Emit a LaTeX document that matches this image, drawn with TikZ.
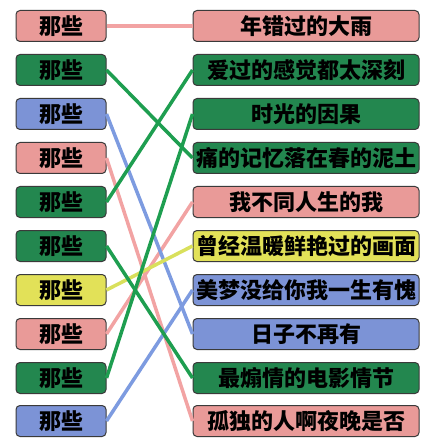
\documentclass[tikz,border=0pt]{standalone}
\usepackage{fontspec}
\usepackage{tikz}
\usetikzlibrary{positioning}
\newfontfamily\cjk{Noto Sans CJK SC}

\definecolor{pinkbox}{HTML}{E99A98}
\definecolor{greenbox}{HTML}{23874F}
\definecolor{bluebox}{HTML}{7C93D6}
\definecolor{yellowbox}{HTML}{E2E158}
\definecolor{pinkline}{HTML}{F2A3A3}
\definecolor{greenline}{HTML}{1E9E50}
\definecolor{blueline}{HTML}{7D9BE0}
\definecolor{yellowline}{HTML}{D9E05C}
\definecolor{rim}{HTML}{3A3A3A}

\begin{document}
\begin{tikzpicture}[
    x=1pt, y=-1pt,
    every node/.style={font=\cjk\bfseries\fontsize{22}{22}\selectfont, text=black},
    word/.style={draw=rim, line width=1pt, rounded corners=4pt, inner sep=0pt,
                 minimum height=31pt},
    lword/.style={word, minimum width=90pt},
    rword/.style={word, minimum width=226pt},
    link/.style={line width=3.5pt}
]
\useasboundingbox (0,0) rectangle (429,443);

% ---------------- Left ----------------
\node[lword,fill=pinkbox]   (l1)  at (61,26)  {那些};
\node[lword,fill=greenbox]  (l2)  at (61,70)  {那些};
\node[lword,fill=bluebox]   (l3)  at (61,114) {那些};
\node[lword,fill=pinkbox]   (l4)  at (61,158) {那些};
\node[lword,fill=greenbox]  (l5)  at (61,202) {那些};
\node[lword,fill=greenbox]  (l6)  at (61,246) {那些};
\node[lword,fill=yellowbox] (l7)  at (61,290) {那些};
\node[lword,fill=pinkbox]   (l8)  at (61,334) {那些};
\node[lword,fill=greenbox]  (l9)  at (61,378) {那些};
\node[lword,fill=bluebox]   (l10) at (61,421) {那些};

% ---------------- Right ----------------
\node[rword,fill=pinkbox]   (r1)  at (306,26)  {年错过的大雨};
\node[rword,fill=greenbox]  (r2)  at (306,70)  {爱过的感觉都太深刻};
\node[rword,fill=greenbox]  (r3)  at (306,114) {时光的因果};
\node[rword,fill=greenbox]  (r4)  at (306,158) {痛的记忆落在春的泥土};
\node[rword,fill=pinkbox]   (r5)  at (306,202) {我不同人生的我};
\node[rword,fill=yellowbox] (r6)  at (306,246) {曾经温暖鲜艳过的画面};
\node[rword,fill=bluebox]   (r7)  at (306,290) {美梦没给你我一生有愧};
\node[rword,fill=bluebox]   (r8)  at (306,334) {日子不再有};
\node[rword,fill=greenbox]  (r9)  at (306,378) {最煽情的电影情节};
\node[rword,fill=pinkbox]   (r10) at (306,421) {孤独的人啊夜晚是否};

% ---------------- Links ----------------
\draw[link] (l1.east) edge[pinkline] (r1.west)
            (l4.east) edge[pinkline] (r10.west)
            (l8.east) edge[pinkline] (r5.west)
            (l3.east) edge[blueline] (r8.west)
            (l10.east) edge[blueline] (r7.west)
            (l7.east) edge[yellowline] (r6.west)
            (l2.east) edge[greenline] (r4.west)
            (l5.east) edge[greenline] (r2.west)
            (l6.east) edge[greenline] (r9.west)
            (l9.east) edge[greenline] (r3.west);

\end{tikzpicture}
\end{document}
